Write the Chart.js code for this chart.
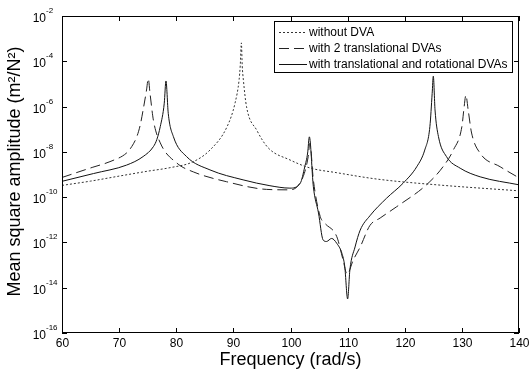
<!DOCTYPE html>
<html>
<head>
<meta charset="utf-8">
<script src="https://cdn.jsdelivr.net/npm/chart.js@4/dist/chart.umd.min.js"></script>
<style>
  html, body { margin: 0; padding: 0; background: #fff; }
</style>
</head>
<body>
<canvas id="c" width="530" height="370"></canvas>
<script>
// values (frequency in rad/s, mean square amplitude)
const freqNoDva = [60, 65, 70, 75, 78.9, 82.9, 85.9, 88.9, 90.3, 91.0, 91.2, 91.4, 91.55, 91.75, 92.3, 94.1, 96.1, 99.9, 103.4, 108.1, 115.1, 125.6, 140];
const ampNoDva = [3.3e-10, 5.1e-10, 8.5e-10, 1.4e-9, 2.0e-9, 3.6e-9, 1.2e-8, 1.3e-7, 1.45e-6, 1.5e-5, 6.3e-5, 6.5e-4, 6.3e-5, 1.5e-5, 1.0e-6, 9.0e-8, 1.5e-8, 4.4e-9, 1.95e-9, 1.2e-9, 6.3e-10, 3.5e-10, 1.9e-10];

const freqTrans = [60, 65.4, 68.4, 71.3, 72.2, 73.1, 73.7, 74.2, 74.8, 75.1, 75.4, 76.0, 77.2, 80.1, 83.0, 88.8, 95.8, 99.9, 102.2, 103.1, 103.4, 104.0, 105.2, 106.0, 108.1, 109.2, 109.9, 111.0, 112.2, 113.9, 115.7, 118.6, 123.8, 126.7, 128.5, 130.0, 130.4, 130.7, 131.1, 131.7, 133.2, 136.7, 140];
const ampTrans = [7.4e-10, 2.1e-9, 3.7e-9, 8.9e-9, 1.7e-8, 4.7e-8, 1.55e-7, 7.1e-7, 5.4e-6, 1.7e-5, 4.0e-6, 2.5e-7, 2.5e-8, 3.2e-9, 1.3e-9, 4.8e-10, 2.2e-10, 2.1e-10, 7.9e-10, 6.2e-9, 2.4e-8, 5.8e-10, 1.4e-11, 7.1e-12, 1.8e-12, 1.7e-13, 4.0e-14, 1.7e-13, 6.3e-13, 5.6e-12, 1.2e-11, 3.8e-11, 3.5e-10, 2.2e-9, 1.2e-8, 1.3e-7, 1.0e-6, 3.2e-6, 7.1e-7, 6.8e-8, 8.7e-9, 2.2e-9, 7.1e-10];

const freqTransRot = [60, 65.5, 71.3, 74.2, 76.0, 76.6, 77.2, 77.9, 78.2, 78.6, 79.5, 81.8, 85.9, 91.7, 96.4, 99.9, 101.7, 102.5, 103.0, 103.3, 104.0, 104.9, 105.7, 106.3, 107.2, 108.1, 109.0, 109.5, 110.0, 110.4, 111.3, 112.2, 113.9, 116.8, 119.7, 122.1, 123.5, 124.4, 124.8, 125.0, 125.3, 125.9, 127.3, 129.7, 133.2, 140];
const ampTransRot = [5.0e-10, 1.1e-9, 2.6e-9, 6.2e-9, 1.7e-8, 3.5e-8, 1.3e-7, 1.4e-6, 1.35e-5, 5.0e-7, 4.7e-8, 6.2e-9, 1.6e-9, 5.8e-10, 3.2e-10, 2.5e-10, 4.1e-10, 2.2e-9, 8.9e-9, 4.6e-8, 2.9e-10, 2.0e-11, 1.3e-12, 1.1e-12, 1.5e-12, 9.1e-13, 3.3e-13, 8.5e-14, 3.2e-15, 6.3e-14, 6.3e-13, 3.5e-12, 1.5e-11, 8.9e-11, 4.1e-10, 2.2e-9, 1.2e-8, 1.3e-7, 3.8e-6, 2.2e-5, 7.1e-7, 4.7e-8, 6.2e-9, 1.9e-9, 7.9e-10, 3.5e-10];

const seriesLabels = ['without DVA', 'with 2 translational DVAs', 'with translational and rotational DVAs'];
const xTicks = [60, 70, 80, 90, 100, 110, 120, 130, 140];
const yTickExps = [-16, -14, -12, -10, -8, -6, -4, -2];

const FONT = "'Liberation Sans', Arial, sans-serif";

function points(fs, vs) {
  return fs.map((f, i) => ({ x: f, y: vs[i] }));
}

// box, inward ticks, labels, titles and legend (MATLAB look)
const matlabFrame = {
  id: 'matlabFrame',
  afterDraw(chart) {
    const ctx = chart.ctx;
    const a = chart.chartArea;
    const xs = chart.scales.x;
    const ys = chart.scales.y;

    ctx.save();
    ctx.strokeStyle = '#000';
    ctx.lineWidth = 1;
    ctx.setLineDash([]);
    ctx.strokeRect(a.left + 0.5, a.top + 0.5, a.right - a.left - 1, a.bottom - a.top - 1);

    // x ticks
    ctx.fillStyle = '#000';
    ctx.font = '12px ' + FONT;
    ctx.textAlign = 'center';
    ctx.textBaseline = 'middle';
    xTicks.forEach(v => {
      const px = Math.round(xs.getPixelForValue(v)) + 0.5;
      ctx.beginPath();
      ctx.moveTo(px, a.bottom); ctx.lineTo(px, a.bottom - 5);
      ctx.moveTo(px, a.top); ctx.lineTo(px, a.top + 5);
      ctx.stroke();
      ctx.fillText(String(v), px, a.bottom + 11);
    });

    // y ticks with 10^n labels
    yTickExps.forEach(e => {
      const py = Math.round(ys.getPixelForValue(Math.pow(10, e))) + 0.5;
      ctx.beginPath();
      ctx.moveTo(a.left, py); ctx.lineTo(a.left + 5, py);
      ctx.moveTo(a.right, py); ctx.lineTo(a.right - 5, py);
      ctx.stroke();
      ctx.font = '12px ' + FONT;
      ctx.textAlign = 'right';
      ctx.fillText('10', 46, py + 2);
      ctx.font = '8px ' + FONT;
      ctx.textAlign = 'left';
      ctx.fillText(String(e), 46, py - 6);
    });

    // axis titles
    ctx.font = '18px ' + FONT;
    ctx.textAlign = 'center';
    ctx.fillText('Frequency (rad/s)', (a.left + a.right) / 2, 360);
    ctx.save();
    ctx.translate(15, (a.top + a.bottom) / 2 - 3);
    ctx.rotate(-Math.PI / 2);
    ctx.fillText('Mean square amplitude (m\u00B2/N\u00B2)', 0, 0);
    ctx.restore();

    // legend
    const lx = 274.5, ly = 21.5, lw = 238, lh = 51;
    ctx.fillStyle = '#fff';
    ctx.fillRect(lx, ly, lw, lh);
    ctx.strokeRect(lx, ly, lw, lh);
    ctx.font = '12px ' + FONT;
    ctx.textAlign = 'left';
    chart.data.datasets.forEach((ds, i) => {
      const y = 32.5 + i * 16;
      ctx.strokeStyle = ds.borderColor;
      ctx.setLineDash(ds.borderDash || []);
      ctx.beginPath();
      ctx.moveTo(279, y); ctx.lineTo(307, y);
      ctx.stroke();
      ctx.setLineDash([]);
      ctx.fillStyle = '#000';
      ctx.fillText(ds.label, 309, y);
    });
    ctx.restore();
  }
};

new Chart(document.getElementById('c'), {
  type: 'line',
  data: {
    datasets: [
      {
        label: seriesLabels[0],
        data: points(freqNoDva, ampNoDva),
        borderColor: '#333',
        borderWidth: 1,
        borderDash: [2, 2]
      },
      {
        label: seriesLabels[1],
        data: points(freqTrans, ampTrans),
        borderColor: '#222',
        borderWidth: 1,
        borderDash: [10, 5]
      },
      {
        label: seriesLabels[2],
        data: points(freqTransRot, ampTransRot),
        borderColor: '#111',
        borderWidth: 1
      }
    ]
  },
  options: {
    responsive: false,
    animation: false,
    devicePixelRatio: 1,
    layout: { padding: { top: 16, right: 11, left: 0, bottom: 0 } },
    elements: {
      point: { radius: 0 },
      line: { cubicInterpolationMode: 'monotone', fill: false }
    },
    plugins: { legend: { display: false }, tooltip: { enabled: false } },
    scales: {
      x: {
        type: 'linear',
        min: 60,
        max: 140,
        ticks: { display: false },
        grid: { display: false },
        border: { display: false },
        afterFit: s => { s.height = 37; }
      },
      y: {
        type: 'logarithmic',
        min: 1e-16,
        max: 1e-2,
        ticks: { display: false },
        grid: { display: false },
        border: { display: false },
        afterFit: s => { s.width = 62; }
      }
    }
  },
  plugins: [matlabFrame]
});
</script>
</body>
</html>
